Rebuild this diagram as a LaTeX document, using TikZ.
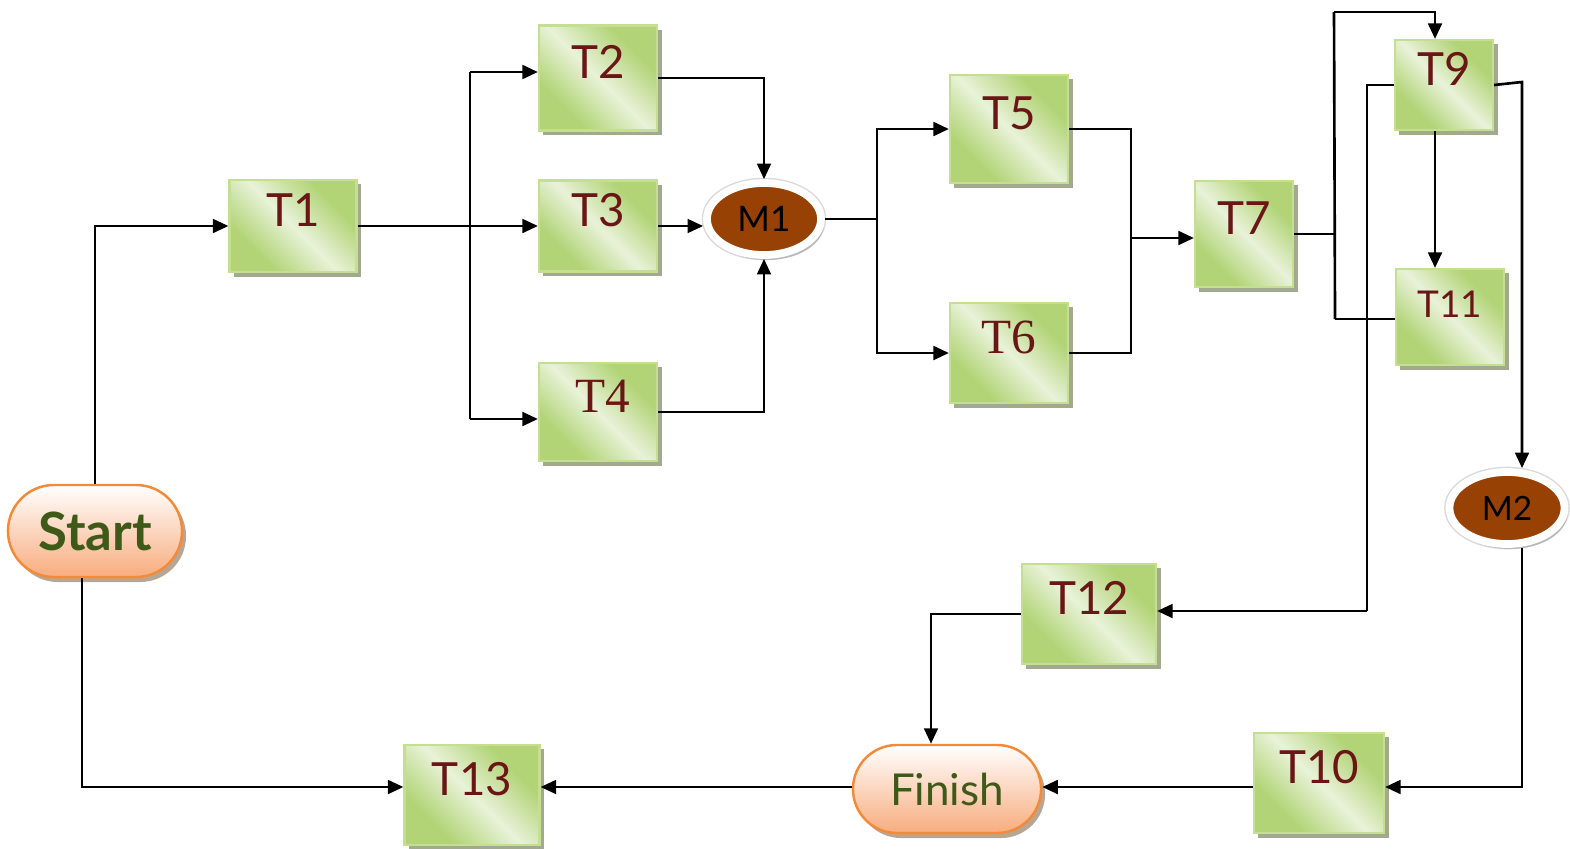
\documentclass[tikz,border=0pt]{standalone}
\usepackage{fontspec}
\setmainfont{Lato}
\newfontfamily\timesface{Liberation Serif}
\usetikzlibrary{arrows.meta,shapes.geometric,shapes.misc,shadows}
\definecolor{boxgreen}{HTML}{B2D477}
\definecolor{boxlight}{HTML}{E9F2D9}
\definecolor{boxedge}{HTML}{C4DF92}
\definecolor{boxshadow}{HTML}{A2A98E}
\definecolor{taskred}{HTML}{6A1616}
\definecolor{mbrown}{HTML}{974105}
\definecolor{endedge}{HTML}{F48A36}
\definecolor{endfill}{HTML}{F8AC7E}
\definecolor{endtext}{HTML}{3F5A18}
\pgfdeclareverticalshading{boxshade}{100bp}{color(0bp)=(boxgreen); color(30bp)=(boxgreen); color(50bp)=(boxlight); color(70bp)=(boxgreen); color(100bp)=(boxgreen)}
\tikzset{
  task/.style={rectangle, draw=boxedge, line width=0.6pt,
    shade, shading=boxshade, shading angle=135,
    drop shadow={shadow xshift=0.045cm, shadow yshift=-0.045cm, fill=boxshadow, opacity=1},
    text=taskred, font=\fontsize{13pt}{15pt}\selectfont,
    text height=0.3cm, text depth=0.3cm, inner sep=0pt},
  merge/.style={ellipse, fill=mbrown, draw=white, line width=2.2pt,
    preaction={draw=gray!30, line width=3pt},
    drop shadow={shadow xshift=0.03cm, shadow yshift=-0.05cm, fill=gray!55, opacity=1},
    text=black, font=\fontsize{10pt}{12pt}\selectfont, inner sep=0pt},
  terminal/.style={rounded rectangle, draw=endedge, line width=0.7pt,
    top color=white, bottom color=endfill,
    drop shadow={shadow xshift=0.04cm, shadow yshift=-0.05cm, fill=gray!60!brown!70, opacity=1},
    text=endtext, inner sep=0pt},
  link/.style={black, line width=0.75pt},
  >={Triangle[length=4.4pt,width=3.9pt]}
}
\begin{document}
\begin{tikzpicture}[x=0.01cm,y=-0.01cm]
\useasboundingbox (0,0) rectangle (1570,848);
\node [terminal, minimum width=1.74cm, minimum height=0.92cm, font=\bfseries\fontsize{15pt}{17pt}\selectfont] (start) at (95,531) {Start};
\node [task, minimum width=1.27cm, minimum height=0.92cm] (t1) at (293,226) {T1};
\node [task, minimum width=1.18cm, minimum height=1.05cm] (t2) at (598,78) {T2};
\node [task, minimum width=1.18cm, minimum height=0.91cm] (t3) at (598,226) {T3};
\node [task, minimum width=1.18cm, minimum height=0.98cm, font=\timesface\fontsize{14pt}{16pt}\selectfont] (t4) at (598,412) {\hspace{0.1cm}T4};
\node [merge, minimum width=1.14cm, minimum height=0.72cm] (m1) at (764,219) {M1};
\node [task, minimum width=1.18cm, minimum height=1.08cm] (t5) at (1009,129) {T5};
\node [task, minimum width=1.18cm, minimum height=1.0cm, font=\timesface\fontsize{14pt}{16pt}\selectfont] (t6) at (1009,353) {T6};
\node [task, minimum width=0.98cm, minimum height=1.06cm] (t7) at (1244,234) {T7};
\node [task, minimum width=0.98cm, minimum height=0.9cm] (t9) at (1444,85) {T9};
\node [task, minimum width=1.08cm, minimum height=0.96cm, font=\fontsize{10.5pt}{12pt}\selectfont] (t11) at (1450,317) {T11};
\node [merge, minimum width=1.15cm, minimum height=0.72cm, font=\fontsize{9.5pt}{11pt}\selectfont] (m2) at (1507,508) {M2};
\node [task, minimum width=1.34cm, minimum height=1.0cm] (t12) at (1089,614) {T12};
\node [task, minimum width=1.3cm, minimum height=1.0cm] (t10) at (1319,783) {T10};
\node [terminal, minimum width=1.88cm, minimum height=0.88cm, font=\fontsize{12.5pt}{15pt}\selectfont] (finish) at (947,789) {Finish};
\node [task, minimum width=1.35cm, minimum height=1.0cm] (t13) at (472,795) {T13};
\coordinate (s1) at (470,72);
\coordinate (s2) at (470,419);
\coordinate (s3) at (877,219);
\coordinate (s4) at (1131,238);
\coordinate (s5) at (1334,12);
\coordinate (s6) at (1335,319);
\coordinate (s7) at (1367,611);
\coordinate (s8) at (1522,82);
\draw [link, ->] (start.north) |- (t1.west);
\draw [link, ->] (t1.east) -- (t3.west);
\draw [link] (s1) -- (s2);
\draw [link, ->] (s1) -- (s1 -| t2.west);
\draw [link, ->] (s2) -- (s2 -| t4.west);
\draw [link, ->] (t2.east) -| (m1.north);
\draw [link, ->] (t3.east) -- (t3.east -| m1.west);
\draw [link, ->] (t4.east) -| (m1.south);
\draw [link] (m1.east) -- (s3);
\draw [link, ->] (s3) |- (t5.west);
\draw [link, ->] (s3) |- (t6.west);
\draw [link] (t5.east) -| (s4);
\draw [link] (t6.east) -| (s4);
\draw [link, ->] (s4) -- (s4 -| t7.west);
\draw [link] (t7.east) -- (t7.east -| s6);
\draw [link] (s5) -- (s6);
\draw [link, ->] (s5) -| ([xshift=-0.09cm]t9.north);
\draw [link] (s6) -- (s6 -| t11.west);
\draw [link, ->] ([xshift=-0.09cm]t9.south) -- ([xshift=-0.09cm]t9.south |- t11.north);
\draw [link] (t9.west) -| (s7);
\draw [link, ->] (s7) -- (s7 -| t12.east);
\draw [link, ->] (t9.east) -- (s8) -- (s8 |- m2.north);
\draw [link, ->] (s8 |- m2.south) |- ([yshift=-0.04cm]t10.east);
\draw [link, ->] ([yshift=-0.04cm]t10.west) -- ([yshift=-0.04cm]t10.west -| finish.east);
\draw [link, ->] (t12.west) -| ([xshift=-0.16cm]finish.north);
\draw [link, ->] ([yshift=0.02cm]finish.west) -- ([yshift=0.02cm]finish.west -| t13.east);
\draw [link, ->] ([xshift=-0.13cm]start.south) |- ([yshift=0.08cm]t13.west);
\end{tikzpicture}
\end{document}
